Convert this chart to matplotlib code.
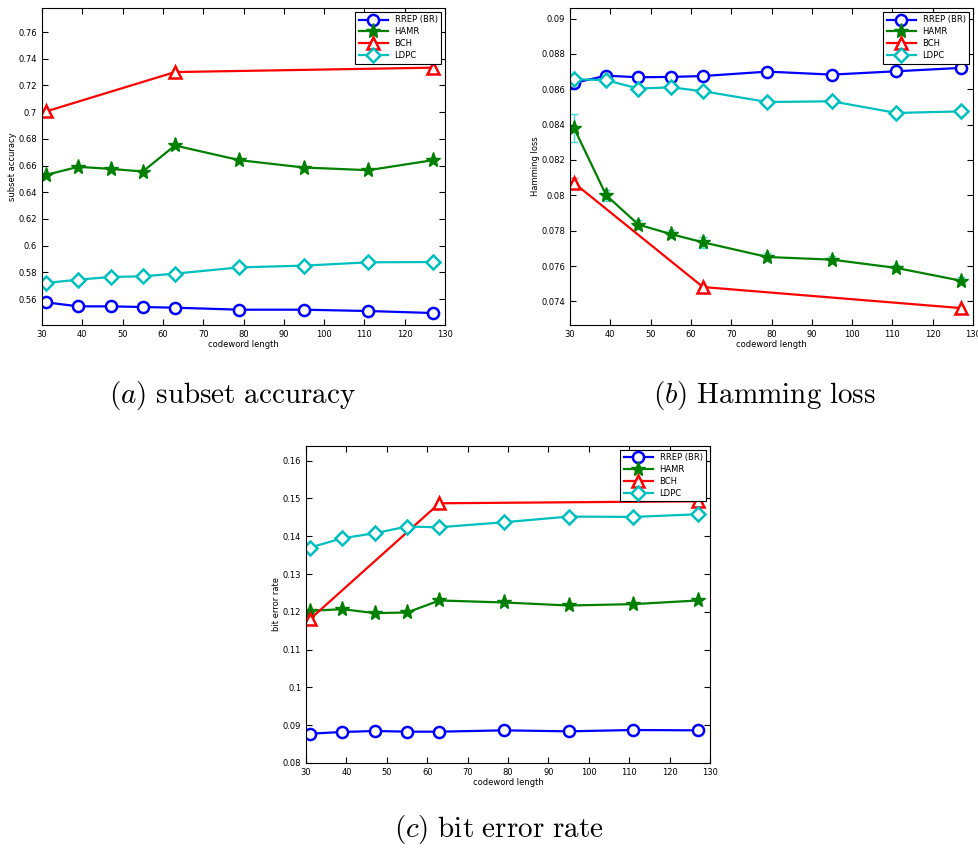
import matplotlib
matplotlib.use("Agg")
import matplotlib.pyplot as plt

plt.rcParams['mathtext.fontset'] = 'cm'

x = [31, 39, 47, 55, 63, 79, 95, 111, 127]
x_bch = [31, 63, 127]
labels = ['RREP (BR)', 'HAMR', 'BCH', 'LDPC']

# (a) subset accuracy
acc_rrep = [0.5575, 0.5545, 0.5545, 0.554, 0.5535, 0.552, 0.552, 0.551, 0.5495]
acc_hamr = [0.653, 0.659, 0.6575, 0.6555, 0.675, 0.664, 0.6585, 0.6565, 0.664]
acc_bch = [0.7005, 0.730, 0.7333]
acc_ldpc = [0.572, 0.5745, 0.5765, 0.577, 0.579, 0.5837, 0.585, 0.5875, 0.5877]

# (b) Hamming loss
ham_rrep = [0.08636, 0.08677, 0.08668, 0.0867, 0.08675, 0.0870, 0.08683, 0.08702, 0.08721]
ham_hamr = [0.08381, 0.0800, 0.07834, 0.07781, 0.07734, 0.07651, 0.07636, 0.07589, 0.07517]
ham_hamr_err = [0.00078, 0.0003, 0.00025, 0.0002, 0.0003, 0.0002, 0.0002, 0.00015, 0.0002]
ham_bch = [0.0807, 0.07481, 0.07362]
ham_bch_err = [0.0003, 0.00005, 0.00005]
ham_ldpc = [0.08658, 0.08651, 0.08604, 0.08611, 0.08589, 0.08528, 0.08532, 0.08466, 0.08475]

# (c) bit error rate
ber_rrep = [0.08775, 0.0882, 0.08846, 0.08828, 0.08828, 0.08863, 0.08837, 0.08872, 0.08863]
ber_hamr = [0.12026, 0.1207, 0.11965, 0.11982, 0.123, 0.12247, 0.12167, 0.12203, 0.123]
ber_bch = [0.11806, 0.14872, 0.14925]
ber_ldpc = [0.137, 0.13947, 0.14079, 0.14256, 0.14238, 0.1437, 0.1452, 0.14511, 0.14581]

BLUE = (0, 0, 1)
GREEN = (0, 0.5, 0)
RED = (1, 0, 0)
CYAN = (0, 0.75, 0.75)


def panel(ax, rrep, hamr, bch, ldpc, ylim, yticks, ylabel, hamr_err=None, bch_err=None):
    lw = 1.6
    if hamr_err is not None:
        ax.errorbar(x, hamr, yerr=hamr_err, fmt='none', ecolor=(0.3, 0.85, 0.85),
                    elinewidth=1, capsize=3, zorder=1)
    if bch_err is not None:
        ax.errorbar(x_bch, bch, yerr=bch_err, fmt='none', ecolor=(1, 0.5, 0.5),
                    elinewidth=1, capsize=3, zorder=1)
    ax.plot(x, rrep, color=BLUE, marker='o', ms=8, mfc='white', mew=1.8, lw=lw, label=labels[0])
    ax.plot(x, hamr, color=GREEN, marker='*', ms=11, mfc=GREEN, mew=1.0, lw=lw, label=labels[1])
    ax.plot(x_bch, bch, color=RED, marker='^', ms=8, mfc='white', mew=1.8, lw=lw, label=labels[2])
    ax.plot(x, ldpc, color=CYAN, marker='D', ms=7, mfc='white', mew=1.8, lw=lw, label=labels[3])
    ax.set_xlim(30, 130)
    ax.set_xticks(range(30, 131, 10))
    ax.set_ylim(*ylim)
    ax.set_yticks(yticks)
    ax.set_yticklabels(['%g' % t for t in yticks])
    ax.tick_params(direction='in', top=True, right=True, labelsize=6, length=4, width=0.8)
    ax.set_xlabel('codeword length', fontsize=6, labelpad=1)
    ax.set_ylabel(ylabel, fontsize=6, labelpad=1)
    for s in ax.spines.values():
        s.set_linewidth(0.8)
    leg = ax.legend(loc='upper right', fontsize=6, fancybox=False, framealpha=1,
                    edgecolor='black', handlelength=3.5, borderpad=0.4, labelspacing=0.35,
                    borderaxespad=0.5)
    leg.get_frame().set_linewidth(0.8)


fig = plt.figure(figsize=(9.79, 8.5), dpi=100)

ax1 = fig.add_axes([0.0429, 0.6176, 0.4117, 0.373])
panel(ax1, acc_rrep, acc_hamr, acc_bch, acc_ldpc, (0.5405, 0.778),
      [0.56, 0.58, 0.6, 0.62, 0.64, 0.66, 0.68, 0.7, 0.72, 0.74, 0.76], 'subset accuracy')

ax2 = fig.add_axes([0.5822, 0.6176, 0.4117, 0.373])
panel(ax2, ham_rrep, ham_hamr, ham_bch, ham_ldpc, (0.07266, 0.0906),
      [0.074, 0.076, 0.078, 0.08, 0.082, 0.084, 0.086, 0.088, 0.09], 'Hamming loss',
      hamr_err=ham_hamr_err, bch_err=ham_bch_err)

ax3 = fig.add_axes([0.3126, 0.1024, 0.4127, 0.373])
panel(ax3, ber_rrep, ber_hamr, ber_bch, ber_ldpc, (0.08, 0.1639),
      [0.08, 0.09, 0.1, 0.11, 0.12, 0.13, 0.14, 0.15, 0.16], 'bit error rate')

cap = dict(fontsize=21, ha='center', va='center')
fig.text(233 / 979, 1 - 395 / 850, r'$(a)\ \mathrm{subset\ accuracy}$', **cap)
fig.text(764 / 979, 1 - 395 / 850, r'$(b)\ \mathrm{Hamming\ loss}$', **cap)
fig.text(499 / 979, 1 - 830 / 850, r'$(c)\ \mathrm{bit\ error\ rate}$', **cap)

fig.savefig('out.png', dpi=100)
